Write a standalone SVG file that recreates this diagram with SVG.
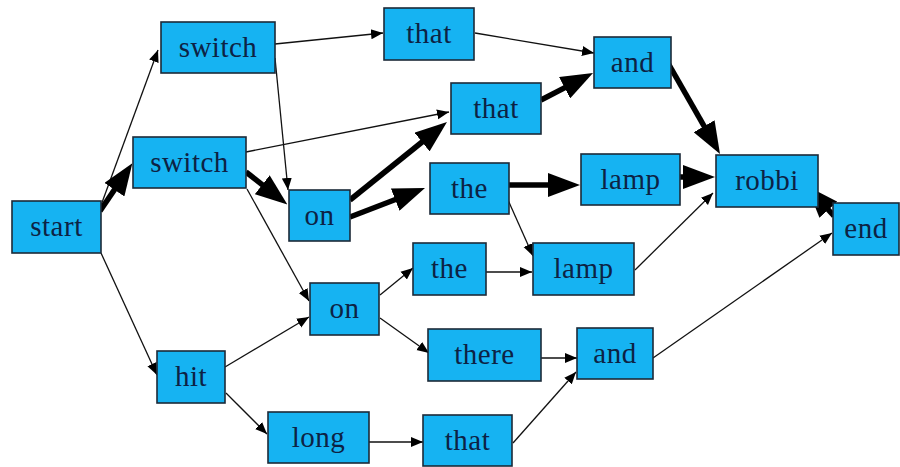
<svg xmlns="http://www.w3.org/2000/svg" width="900" height="467" viewBox="0 0 900 467">
<style>
.n rect{fill:#16b3f2;stroke:#1c2a38;stroke-width:1.6}
.n text{font-family:"Liberation Serif","Times New Roman",serif;font-size:29px;fill:#0d2244;text-anchor:middle;letter-spacing:0.5px}
.thin{fill:none;stroke:#111;stroke-width:1.3;marker-end:url(#ah)}
.thick{fill:none;stroke:#000;stroke-width:5.5;marker-end:url(#AH)}
</style>
<defs>
<marker id="ah" markerUnits="userSpaceOnUse" viewBox="0 -6 12 12" refX="12" refY="0" markerWidth="12" markerHeight="12" orient="auto"><path d="M0,-5 L12,0 L0,5 Z" fill="#000"/></marker>
<marker id="AH" markerUnits="userSpaceOnUse" viewBox="0 -12 32 24" refX="8" refY="0" markerWidth="32" markerHeight="24" orient="auto"><path d="M0,-12 L32,0 L0,12 Z" fill="#000"/></marker>
</defs>
<rect width="900" height="467" fill="#fff"/>
<g id="connectors">
<path class="thin" d="M100,208 L158,50"/>
<path class="thick" d="M100,211 L118.9,183.1"/>
<path class="thin" d="M101,253 L157,375"/>
<path class="thin" d="M275,44 L383,33"/>
<path class="thin" d="M275,58 L288,190"/>
<path class="thin" d="M246,152 L449,112"/>
<path class="thick" d="M246,172 L268.5,189.7"/>
<path class="thin" d="M247,189 L309,301"/>
<path class="thin" d="M225,367 L309,317"/>
<path class="thin" d="M226,393 L267,434"/>
<path class="thick" d="M350,200 L428.3,137"/>
<path class="thick" d="M350,217 L402.6,196.7"/>
<path class="thick" d="M509,185 L556,185"/>
<path class="thin" d="M508,200 L533,256"/>
<path class="thin" d="M475,33 L594,53"/>
<path class="thick" d="M541,100 L571.7,84.1"/>
<path class="thick" d="M668,63 L708.1,133.2"/>
<path class="thick" d="M680,177 L691,177"/>
<path class="thin" d="M635,270 L713,193"/>
<path class="thin" d="M486,272 L532,272"/>
<path class="thin" d="M380,295 L413,268"/>
<path class="thin" d="M380,318 L429,353"/>
<path class="thin" d="M541,358 L577,358"/>
<path class="thin" d="M369,442 L423,442"/>
<path class="thin" d="M513,443 L576,372"/>
<path class="thin" d="M653,358 L832,233"/>
<path class="thick" d="M834,216 L823,203.8"/>
</g>
<g id="start" class="n"><rect x="12" y="201" width="89" height="52"/><text x="56.5" y="236">start</text></g>
<g id="switch1" class="n"><rect x="161" y="22" width="114" height="51"/><text x="218" y="57">switch</text></g>
<g id="switch2" class="n"><rect x="133" y="137" width="113" height="51"/><text x="189.5" y="172">switch</text></g>
<g id="hit" class="n"><rect x="157" y="351" width="68" height="52"/><text x="191" y="386">hit</text></g>
<g id="long" class="n"><rect x="268" y="412" width="101" height="51"/><text x="318.5" y="447">long</text></g>
<g id="that1" class="n"><rect x="384" y="8" width="90" height="52"/><text x="429" y="43">that</text></g>
<g id="that2" class="n"><rect x="451" y="83" width="90" height="51"/><text x="496" y="118">that</text></g>
<g id="on1" class="n"><rect x="289" y="190" width="61" height="51"/><text x="319.5" y="225">on</text></g>
<g id="the1" class="n"><rect x="430" y="163" width="79" height="51"/><text x="469.5" y="198">the</text></g>
<g id="and1" class="n"><rect x="594" y="37" width="77" height="51"/><text x="632.5" y="72">and</text></g>
<g id="lamp1" class="n"><rect x="581" y="154" width="99" height="51"/><text x="630.5" y="189">lamp</text></g>
<g id="robbi" class="n"><rect x="716" y="155" width="102" height="52"/><text x="767" y="190">robbi</text></g>
<g id="end" class="n"><rect x="833" y="203" width="66" height="52"/><text x="866" y="238">end</text></g>
<g id="on2" class="n"><rect x="310" y="283" width="69" height="52"/><text x="344.5" y="318">on</text></g>
<g id="the2" class="n"><rect x="413" y="243" width="73" height="52"/><text x="449.5" y="278">the</text></g>
<g id="lamp2" class="n"><rect x="533" y="243" width="101" height="52"/><text x="583.5" y="278">lamp</text></g>
<g id="there" class="n"><rect x="428" y="329" width="113" height="52"/><text x="484.5" y="364">there</text></g>
<g id="and2" class="n"><rect x="577" y="328" width="76" height="51"/><text x="615" y="363">and</text></g>
<g id="that3" class="n"><rect x="423" y="415" width="89" height="51"/><text x="467.5" y="450">that</text></g>
</svg>
